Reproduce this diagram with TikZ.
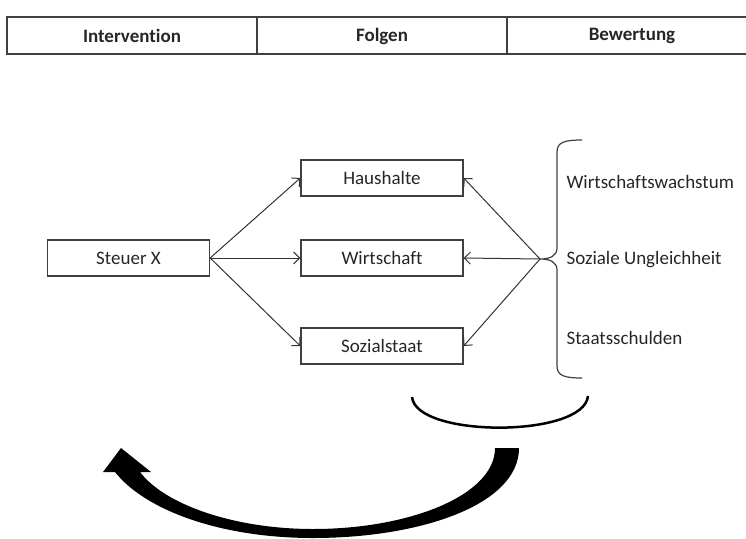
\documentclass[tikz,border=0pt]{standalone}
\usepackage{fontspec}
\setmainfont{Carlito}[Ligatures=NoCommon]
\usetikzlibrary{arrows.meta}
\begin{document}
\begin{tikzpicture}[x=1pt,y=-1pt,>={Straight Barb[length=6pt,width=12pt]},
  every node/.style={font=\fontsize{19}{22}\selectfont,text=black!85},
  kasten/.style={draw=black!75,line width=1.3pt,minimum width=162pt,minimum height=36pt,inner sep=0pt},
  pfeil/.style={->,draw=black!80,line width=1pt}]
\useasboundingbox (0,0) rectangle (746,538);
% Kopfzeile
\draw[black!75,line width=1.3pt] (746,17) -- (7,17) -- (7,54) -- (746,54);
\draw[black!75,line width=1.3pt] (257,17) -- (257,54) (507,17) -- (507,54);
\node[font=\fontsize{19}{22}\selectfont\bfseries] (interv) at (132,36) {Intervention};
\node[font=\fontsize{19}{22}\selectfont\bfseries] (folgen) at (382,36) {Folgen};
\node[font=\fontsize{19}{22}\selectfont\bfseries] (bewert) at (632,36) {Bewertung};
% Kaesten
\node[kasten] (steuer) at (128.5,258) {Steuer X};
\node[kasten] (haus) at (382,178) {Haushalte};
\node[kasten] (wirt) at (382,258) {Wirtschaft};
\node[kasten] (sozial) at (382,346) {Sozialstaat};
\draw[pfeil] (steuer.east) -- (haus.west);
\draw[pfeil] (steuer.east) -- (wirt.west);
\draw[pfeil] (steuer.east) -- (sozial.west);
% Klammer
\coordinate (spitze) at (540,259);
\draw[black!75,line width=1.2pt] (582,140) .. controls (565,140) and (557,142) .. (557,152) -- (557,248)
  .. controls (557,256) and (550,259) .. (spitze) .. controls (550,259) and (557,262) .. (557,270)
  -- (557,366) .. controls (557,376) and (565,378) .. (582,378);
\draw[pfeil] (spitze) -- (haus.east);
\draw[pfeil] (spitze) -- (wirt.east);
\draw[pfeil] (spitze) -- (sozial.east);
\node[anchor=west] (wachstum) at (563,182) {Wirtschaftswachstum};
\node[anchor=west] (ungleich) at (563,260) {Soziale Ungleichheit};
\node[anchor=west] (schulden) at (563,338) {Staatsschulden};
% Bogen und Rueckpfeil
\draw[line width=2.5pt] (412,397) .. controls (416,438) and (584,438) .. (588,396);
\fill (495,448) -- (519,448) .. controls (519,505) and (420,538) .. (313,538)
  .. controls (220,538) and (145,510) .. (115,472) -- (103,472) -- (121,448) -- (151,472) -- (140,472)
  .. controls (165,505) and (235,529) .. (313,529) .. controls (410,529) and (495,495) .. (495,448) -- cycle;
\end{tikzpicture}
\end{document}
